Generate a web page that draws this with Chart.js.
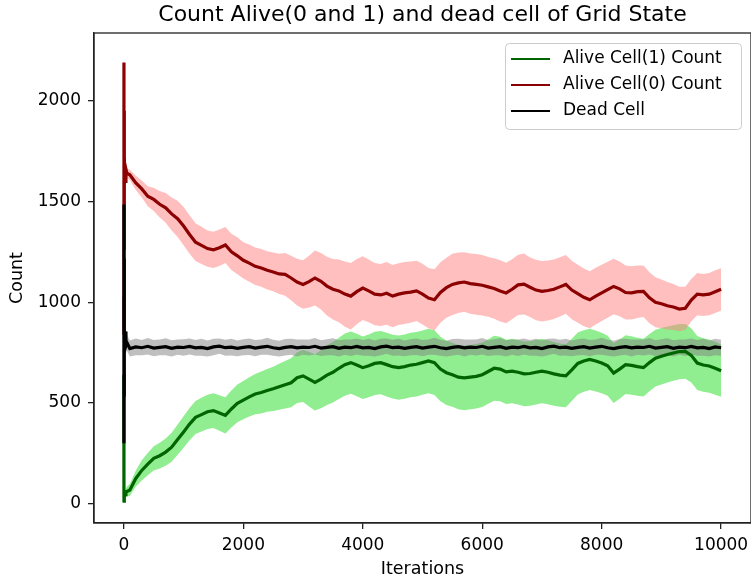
<!DOCTYPE html>
<html>
<head>
<meta charset="utf-8">
<script src="https://cdn.jsdelivr.net/npm/chart.js@4.4.1/dist/chart.umd.min.js"></script>
<style>
  body { margin: 0; background: #fff; }
</style>
</head>
<body>
<canvas id="chart" width="751" height="580"></canvas>
<script>
// iterations (x), first few are the start-up transient
const iterations = [0, 1, 2, 3, 4, 6, 8, 12, 20, 35, 50,
  100, 200, 300, 400, 500, 600, 700, 800, 900, 1000,
  1100, 1200, 1300, 1400, 1500, 1600, 1700, 1800, 1900, 2000,
  2100, 2200, 2300, 2400, 2500, 2600, 2700, 2800, 2900, 3000,
  3100, 3200, 3300, 3400, 3500, 3600, 3700, 3800, 3900, 4000,
  4100, 4200, 4300, 4400, 4500, 4600, 4700, 4800, 4900, 5000,
  5100, 5200, 5300, 5400, 5500, 5600, 5700, 5800, 5900, 6000,
  6100, 6200, 6300, 6400, 6500, 6600, 6700, 6800, 6900, 7000,
  7100, 7200, 7300, 7400, 7500, 7600, 7700, 7800, 7900, 8000,
  8100, 8200, 8300, 8400, 8500, 8600, 8700, 8800, 8900, 9000,
  9100, 9200, 9300, 9400, 9500, 9600, 9700, 9800, 9900, 10000];

const aliveOneMean = [640, 10, 15, 12, 25, 20, 30, 35, 45, 55, 60,
  68, 125, 165, 196, 225, 238, 256, 280, 318, 356,
  395, 428, 442, 456, 462, 450, 438, 470, 498, 514,
  530, 544, 552, 562, 570, 580, 590, 600, 625, 634,
  618, 602, 618, 638, 652, 672, 690, 700, 688, 675,
  684, 696, 700, 690, 680, 675, 680, 688, 692, 700,
  708, 700, 668, 650, 640, 628, 624, 628, 632, 640,
  656, 672, 668, 654, 658, 652, 644, 646, 652, 658,
  652, 644, 638, 634, 664, 696, 708, 716, 708, 698,
  684, 648, 668, 690, 686, 680, 675, 700, 722, 732,
  740, 748, 755, 756, 736, 698, 688, 683, 672, 660];

const aliveOneStd = [5, 5, 5, 5, 5, 8, 10, 12, 15, 20, 25,
  30, 40, 50, 55, 60, 64, 68, 72, 75, 78,
  80, 82, 84, 85, 86, 88, 90, 92, 94, 95,
  98, 100, 104, 106, 110, 114, 118, 122, 126, 130,
  136, 140, 144, 148, 150, 152, 154, 155, 155, 155,
  156, 157, 157, 158, 158, 159, 159, 160, 160, 160,
  160, 161, 160, 160, 159, 160, 161, 160, 160, 160,
  160, 161, 160, 159, 160, 160, 161, 160, 160, 160,
  159, 158, 157, 156, 155, 154, 153, 152, 151, 150,
  149, 148, 147, 146, 145, 144, 143, 142, 141, 140,
  139, 138, 137, 136, 135, 134, 133, 132, 131, 130];

const aliveZeroMean = [840, 2190, 1000, 1950, 1260, 1780, 1420, 1720, 1600, 1660, 1640,
  1632, 1592, 1562, 1526, 1510, 1486, 1468, 1438, 1414, 1378,
  1336, 1298, 1282, 1266, 1260, 1270, 1284, 1250, 1230, 1208,
  1194, 1178, 1170, 1158, 1150, 1140, 1138, 1120, 1100, 1088,
  1102, 1120, 1104, 1080, 1064, 1056, 1040, 1030, 1052, 1070,
  1056, 1040, 1036, 1044, 1030, 1040, 1046, 1050, 1056, 1040,
  1020, 1012, 1048, 1072, 1088, 1096, 1100, 1092, 1088, 1084,
  1076, 1068, 1056, 1046, 1064, 1086, 1090, 1074, 1060, 1054,
  1058, 1064, 1076, 1088, 1060, 1042, 1024, 1012, 1030, 1046,
  1062, 1078, 1066, 1048, 1046, 1052, 1054, 1022, 1000, 992,
  982, 976, 966, 970, 1010, 1040, 1036, 1040, 1052, 1064];

const aliveZeroStd = [30, 35, 60, 40, 50, 40, 40, 30, 30, 25, 25,
  25, 35, 42, 50, 58, 66, 74, 82, 90, 95,
  96, 94, 92, 90, 90, 91, 89, 90, 92, 90,
  92, 93, 94, 95, 96, 100, 106, 110, 116, 120,
  128, 136, 140, 146, 150, 156, 162, 165, 162, 158,
  156, 155, 154, 156, 155, 153, 154, 152, 150, 151,
  150, 152, 150, 149, 152, 150, 148, 150, 151, 150,
  148, 150, 152, 150, 149, 150, 151, 148, 150, 150,
  149, 148, 147, 146, 145, 144, 143, 142, 141, 140,
  139, 138, 136, 134, 132, 130, 128, 126, 124, 121,
  118, 114, 110, 107, 105, 105, 104, 105, 106, 105];

const deadMean = [1020, 300, 1485, 538, 1215, 700, 1050, 745, 855, 785, 800,
  770, 778, 774, 781, 772, 776, 779, 771, 777, 775,
  780, 773, 776, 770, 778, 782, 774, 777, 771, 776,
  779, 772, 777, 781, 774, 770, 776, 779, 773, 777,
  775, 781, 772, 776, 779, 771, 777, 774, 780, 773,
  776, 770, 778, 782, 774, 777, 771, 776, 779, 772,
  777, 781, 774, 770, 776, 779, 773, 777, 775, 781,
  772, 776, 779, 771, 777, 774, 780, 773, 776, 770,
  778, 782, 774, 777, 771, 776, 779, 772, 777, 781,
  774, 770, 776, 779, 773, 777, 775, 781, 772, 776,
  779, 771, 777, 774, 780, 773, 776, 770, 778, 774];

const deadStd = [20, 40, 60, 60, 60, 55, 50, 45, 42, 40, 40,
  40, 42, 38, 41, 40, 39, 42, 40, 38, 41,
  40, 39, 42, 40, 41, 38, 40, 42, 39, 40,
  41, 40, 38, 42, 40, 39, 41, 40, 42, 38,
  40, 41, 39, 40, 42, 40, 38, 41, 40, 39,
  42, 40, 41, 38, 40, 42, 39, 40, 41, 40,
  38, 42, 40, 39, 41, 40, 42, 38, 40, 41,
  39, 40, 42, 40, 38, 41, 40, 39, 42, 40,
  41, 38, 40, 42, 39, 40, 41, 40, 38, 42,
  40, 39, 41, 40, 42, 38, 40, 41, 39, 40,
  42, 40, 38, 41, 40, 39, 42, 40, 41, 40];

const xTicks = [0, 2000, 4000, 6000, 8000, 10000];
const yTicks = [0, 500, 1000, 1500, 2000];

const pts = (vals) => iterations.map((x, i) => ({ x: x, y: vals[i] }));
const upper = (m, s) => m.map((v, i) => v + s[i]);
const lower = (m, s) => m.map((v, i) => v - s[i]);

const FONT = 'DejaVu Sans';

// band = hidden upper line + lower line filled to it
function band(mean, std, color, order) {
  return [
    { data: pts(upper(mean, std)), borderWidth: 0, pointRadius: 0, fill: false, order: order },
    { data: pts(lower(mean, std)), borderWidth: 0, pointRadius: 0, fill: '-1', backgroundColor: color, order: order }
  ];
}

function line(label, mean, color, width, order) {
  return { label: label, data: pts(mean), borderColor: color, backgroundColor: color,
    borderWidth: width, pointRadius: 0, fill: false, order: order, inLegend: true };
}

// top/right spines (chart.js only draws left/bottom)
const frame = {
  id: 'frame',
  afterDraw(chart) {
    const { ctx, chartArea: a } = chart;
    ctx.save();
    ctx.strokeStyle = '#222';
    ctx.lineWidth = 1.3;
    ctx.strokeRect(a.left, a.top, a.right - a.left, a.bottom - a.top);
    ctx.restore();
  }
};

const mplTitle = {
  id: 'mplTitle',
  afterDraw(chart) {
    const { ctx, chartArea: a } = chart;
    ctx.save();
    ctx.fillStyle = '#000';
    ctx.font = '22px "' + FONT + '"';
    ctx.textAlign = 'center';
    ctx.textBaseline = 'middle';
    ctx.fillText('Count Alive(0 and 1) and dead cell of Grid State', (a.left + a.right) / 2, 15);
    ctx.restore();
  }
};

const mplLegend = {
  id: 'mplLegend',
  afterDraw(chart) {
    const { ctx, chartArea: a } = chart;
    const items = chart.data.datasets.filter(d => d.inLegend);
    const w = 236, rowH = 26;
    const h = items.length * rowH + 8;
    const x0 = 505, y0 = a.top + 10;
    ctx.save();
    ctx.fillStyle = 'rgba(255,255,255,0.8)';
    ctx.strokeStyle = '#cccccc';
    ctx.lineWidth = 1;
    ctx.beginPath();
    ctx.roundRect(x0 + 0.5, y0 + 0.5, w, h, 4);
    ctx.fill();
    ctx.stroke();
    ctx.font = '17px "' + FONT + '"';
    ctx.textBaseline = 'middle';
    ctx.textAlign = 'left';
    items.forEach((d, i) => {
      const y = y0 + 16 + i * rowH;
      ctx.strokeStyle = d.borderColor;
      ctx.lineWidth = 1.8;
      ctx.beginPath();
      ctx.moveTo(x0 + 6, y);
      ctx.lineTo(x0 + 45, y);
      ctx.stroke();
      ctx.fillStyle = '#000';
      ctx.fillText(d.label, x0 + 58, y);
    });
    ctx.restore();
  }
};

const ctx = document.getElementById('chart').getContext('2d');
const myChart = new Chart(ctx, {
  type: 'line',
  data: {
    datasets: [
      line('Alive Cell(1) Count', aliveOneMean, 'rgb(0,100,0)', 3.2, 3),
      line('Alive Cell(0) Count', aliveZeroMean, 'rgb(139,0,0)', 3.2, 2),
      line('Dead Cell', deadMean, '#000000', 3.2, 1),
      ...band(aliveOneMean, aliveOneStd, 'rgb(144,238,144)', 10),
      ...band(aliveZeroMean, aliveZeroStd, 'rgba(255,128,128,0.5)', 9),
      ...band(deadMean, deadStd, 'rgba(128,128,128,0.5)', 8)
    ]
  },
  options: {
    responsive: false,
    animation: false,
    layout: { padding: { top: 33, left: 0, right: 0, bottom: 0 } },
    plugins: {
      legend: { display: false },
      title: { display: false },
      tooltip: { enabled: false }
    },
    scales: {
      x: {
        type: 'linear',
        min: -500,
        max: 10500,
        afterBuildTicks: (s) => { s.ticks = xTicks.map(v => ({ value: v })); },
        afterFit: (s) => { s.height = 57; s.paddingLeft = 0; s.paddingRight = 0; },
        ticks: {
          padding: 6,
          maxRotation: 0,
          color: '#000',
          font: { family: FONT, size: 17 },
          callback: (v) => String(v)
        },
        grid: { drawOnChartArea: false, drawTicks: true, tickLength: 6, color: '#222', lineWidth: 1.3 },
        border: { display: true, color: '#222', width: 1.3 },
        title: {
          display: true,
          text: 'Iterations',
          color: '#000',
          font: { family: FONT, size: 17.5 },
          padding: { top: 0, bottom: 0 }
        }
      },
      y: {
        type: 'linear',
        min: -96,
        max: 2336,
        afterBuildTicks: (s) => { s.ticks = yTicks.map(v => ({ value: v })); },
        afterFit: (s) => { s.width = 94; s.paddingTop = 0; s.paddingBottom = 0; },
        ticks: {
          padding: 7,
          color: '#000',
          font: { family: FONT, size: 17 },
          callback: (v) => String(v)
        },
        grid: { drawOnChartArea: false, drawTicks: true, tickLength: 6, color: '#222', lineWidth: 1.3 },
        border: { display: true, color: '#222', width: 1.3 },
        title: {
          display: true,
          text: 'Count',
          color: '#000',
          font: { family: FONT, size: 17.5 },
          padding: { top: 7, bottom: 0 }
        }
      }
    }
  },
  plugins: [frame, mplTitle, mplLegend]
});
</script>
</body>
</html>
